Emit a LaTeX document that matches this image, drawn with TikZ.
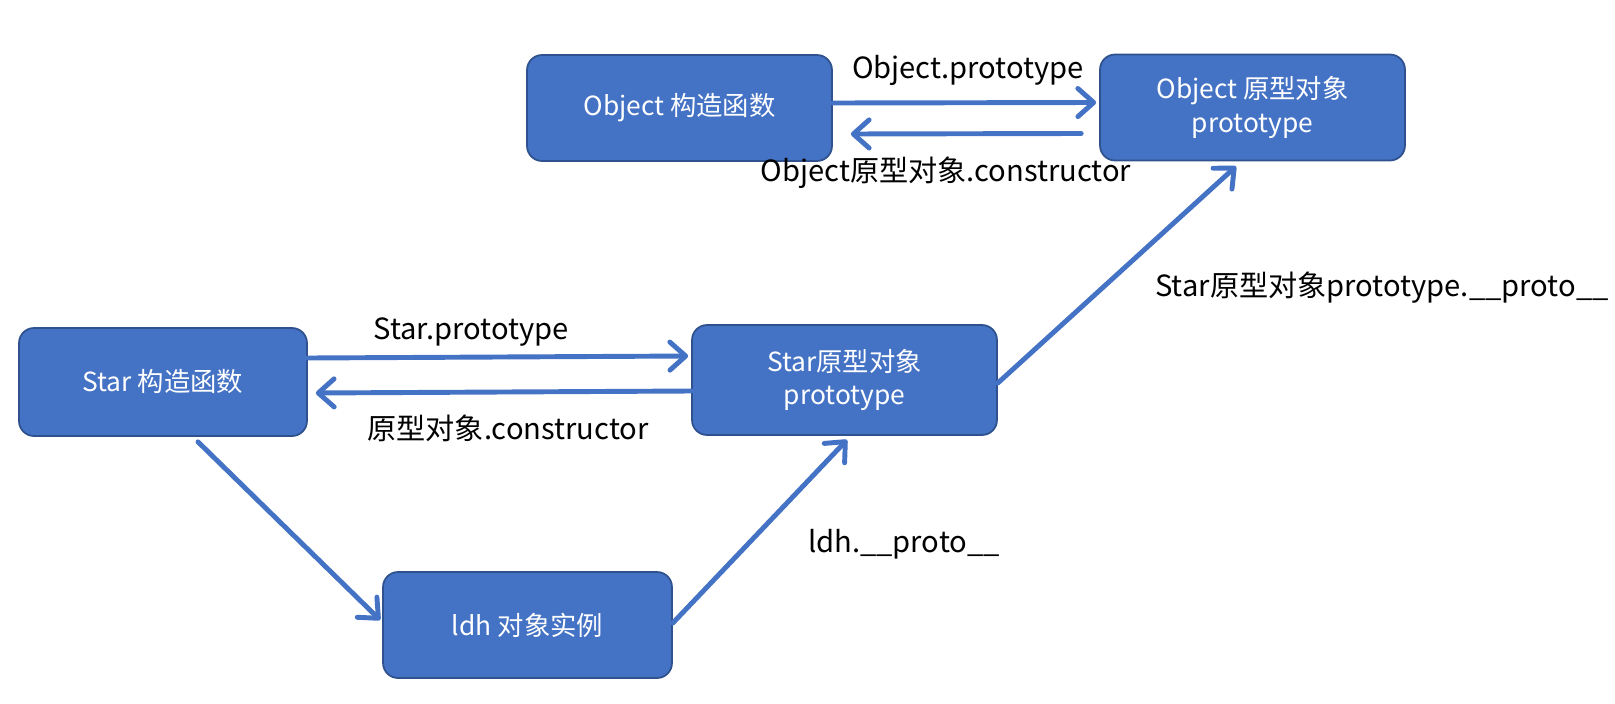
\documentclass[tikz,border=0pt]{standalone}
\usepackage{fontspec}
\setmainfont{Noto Sans CJK SC}
\usepackage{tikz}
\usetikzlibrary{positioning,arrows.meta,calc}
\definecolor{azul}{RGB}{68,114,196}
\definecolor{borde}{RGB}{47,82,143}

\begin{document}
\begin{tikzpicture}[x=0.02cm, y=-0.02cm,
  caja/.style={draw=borde, fill=azul, text=white, line width=1pt,
    rounded corners=0.3cm, font=\fontsize{15}{19}\selectfont,
    align=center, minimum width=#1, minimum height=2.12cm, inner sep=2pt},
  caja/.default=6.1cm,
  flecha/.style={draw=azul, line width=2.8pt, line cap=round,
    -{Straight Barb[length=9pt,width=16pt,line cap=round,round]}},
  etiqueta/.style={font=\fontsize{16.6}{20}\selectfont, text=black,
    inner sep=1pt},
]
  \useasboundingbox (0,0) rectangle (1615,703);
  % ---- Object (arriba) ----
  \node[caja] (objfn) at (679.5,108) {Object 构造函数};
  \node[caja] (objproto) at (1252.5,107.5) {Object 原型对象\\prototype};
  % ---- Star (centro) ----
  \node[caja=5.76cm, minimum height=2.16cm] (starfn) at (163,382)
    {Star 构造函数};
  \node[caja, minimum height=2.2cm] (starproto) at (844.5,380)
    {Star原型对象\\prototype};
  % ---- Instancia (abajo) ----
  \node[caja=5.78cm] (ldh) at (527.5,625) {ldh 对象实例};
  % ---- Relaciones ----
  \draw[flecha] ([yshift=0.1cm]objfn.east) -- ([xshift=-0.06cm,yshift=0.1cm]objproto.west);
  \draw[flecha] ([xshift=-0.36cm,yshift=-0.52cm]objproto.west)
    -- ([xshift=0.36cm,yshift=-0.52cm]objfn.east);
  \draw[flecha] ([yshift=0.48cm]starfn.east)
    -- ([xshift=-0.06cm,yshift=0.48cm]starproto.west);
  \draw[flecha] ([yshift=-0.22cm]starproto.west)
    -- ([xshift=0.16cm,yshift=-0.22cm]starfn.east);
  \draw[flecha] ([xshift=0.7cm,yshift=-0.1cm]starfn.south)
    -- ([xshift=-0.04cm,yshift=0.1cm]ldh.west);
  \draw[flecha] ([yshift=0.04cm]ldh.east)
    -- ([xshift=0.05cm,yshift=-0.08cm]starproto.south);
  \draw[flecha] ([yshift=-0.06cm]starproto.east)
    -- ([xshift=-0.33cm,yshift=-0.1cm]objproto.south);
  % Etiquetas de las flechas
  \node[etiqueta] (lobj1) at (968,70) {Object.prototype};
  \node[etiqueta] (lobj2) at (946,173) {Object原型对象.constructor};
  \node[etiqueta] (lstar1) at (471,332) {Star.prototype};
  \node[etiqueta] (lstar2) at (508,428) {原型对象.constructor};
  \node[etiqueta] (lldh) at (904,544) {ldh.\_\_proto\_\_};
  \node[etiqueta] (lproto) at (1382,288) {Star原型对象prototype.\_\_proto\_\_};
\end{tikzpicture}
\end{document}
